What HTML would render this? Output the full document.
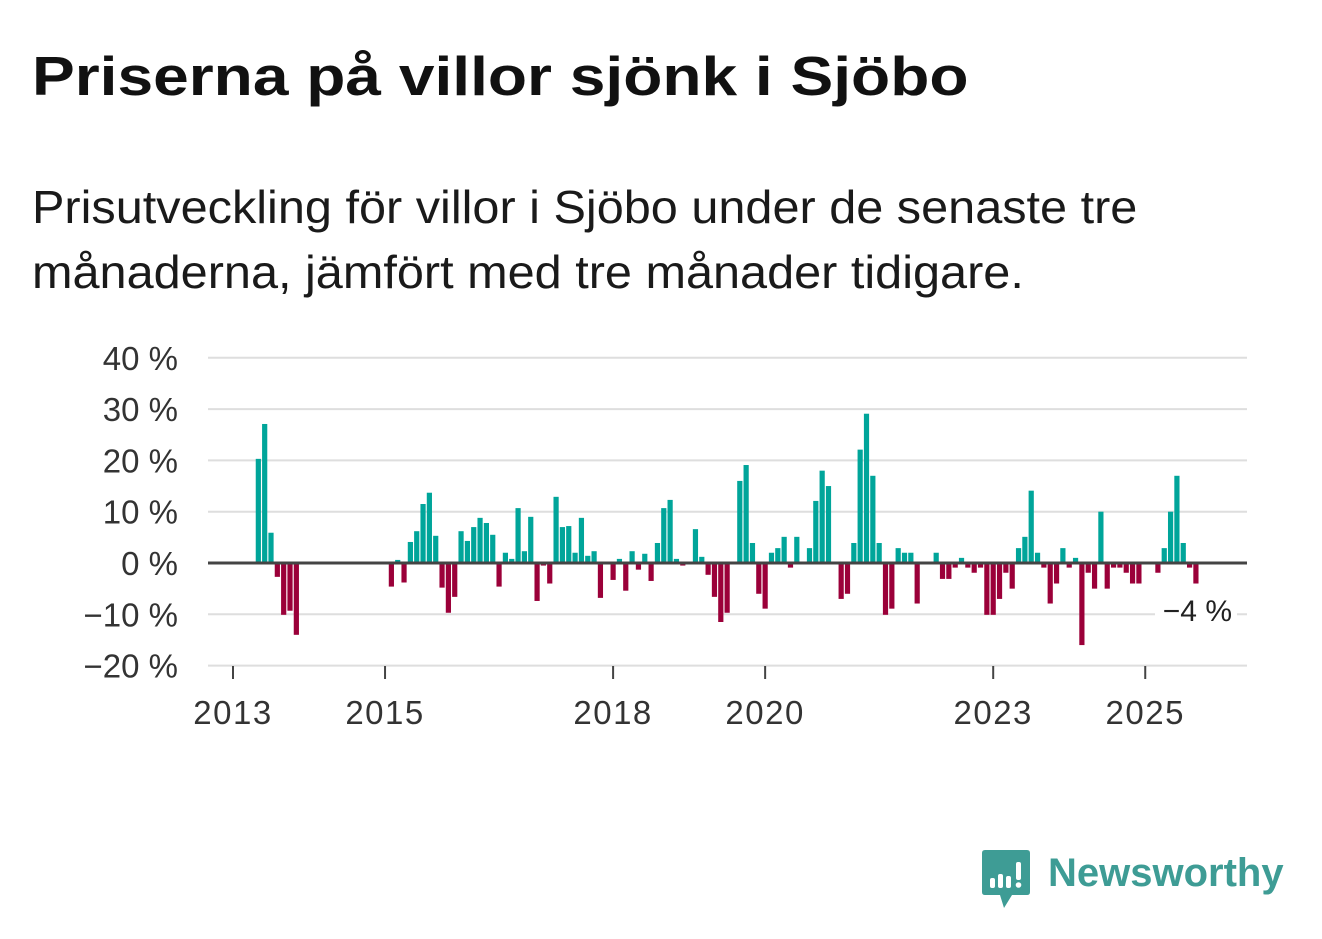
<!DOCTYPE html>
<html><head><meta charset="utf-8">
<style>
body{margin:0;background:#fff;width:1322px;height:939px;overflow:hidden;font-family:"Liberation Sans",sans-serif;}
#title{position:absolute;left:32px;top:44px;font-size:55px;font-weight:bold;color:#111;margin:0;white-space:nowrap;transform:scaleX(1.165);transform-origin:left top;}
#sub{position:absolute;left:32px;top:175px;font-size:46px;line-height:65px;color:#1a1a1a;white-space:nowrap;transform:scaleX(1.057);transform-origin:left top;}
svg{position:absolute;left:0;top:0;}
</style></head><body>
<h1 id="title">Priserna på villor sjönk i Sjöbo</h1>
<div id="sub">Prisutveckling för villor i Sjöbo under de senaste tre<br>månaderna, jämfört med tre månader tidigare.</div>
<svg id="chart" width="1322" height="939"></svg>
<div style="position:absolute;left:982px;top:850px;">
<svg width="50" height="60" style="position:absolute;left:0;top:0">
<path d="M3 0 H45 Q48 0 48 3 V42 Q48 45 45 45 H30 L22 58 L18 45 H3 Q0 45 0 42 V3 Q0 0 3 0Z" fill="#3e9c95"/>
<rect x="8" y="28" width="5" height="10" rx="2" fill="#fff"/><rect x="16" y="24" width="5" height="14" rx="2" fill="#fff"/><rect x="24" y="26" width="5" height="12" rx="2" fill="#fff"/><rect x="34" y="12" width="5" height="18" rx="2" fill="#fff"/><circle cx="36.5" cy="35" r="2.8" fill="#fff"/>
</svg>
<span style="position:absolute;left:66px;top:1px;font-size:40px;font-weight:bold;color:#3e9c95;white-space:nowrap;">Newsworthy</span>
</div>
<script>
const values=[null,null,null,null,20.3,27.1,5.9,-2.7,-10.1,-9.3,-14,
null,null,null,null,null,null,null,null,null,null,null,null,null,null,
-4.6,0.6,-3.8,4.1,6.2,11.5,13.7,5.3,-4.8,-9.7,-6.6,6.2,4.3,7.0,8.8,7.8,5.5,-4.6,2.0,0.8,10.7,2.3,9.0,-7.4,-0.5,-4.0,
12.9,7.0,7.2,2.0,8.8,1.4,2.3,-6.8,0,-3.3,0.8,-5.4,2.3,-1.3,1.8,-3.5,3.9,10.7,12.3,0.8,-0.5,0,6.6,1.2,-2.3,-6.6,-11.5,-9.7,0,
16.0,19.1,3.9,-6.0,-8.9,2.0,2.9,5.1,-0.9,5.1,0,2.9,12.1,18.0,15.0,0,-7.0,-6.0,3.9,22.1,29.1,17.0,3.9,-10.1,-8.9,2.9,2.0,2.0,-7.9,0,0,
2.0,-3.1,-3.1,-0.9,1.0,-0.9,-1.9,-0.9,-10.1,-10.1,-7.0,-1.9,-5.0,2.9,5.1,14.1,2.0,-0.9,-7.9,-4.0,2.9,-0.9,1.0,-16.0,-1.9,-5.0,10.0,-5.0,-0.9,-0.9,-1.9,-4.0,-4.0,0,0,-1.9,2.9,10.0,17.0,3.9,-0.9,-4.0];
const yTicks=[40,30,20,10,0,-10,-20];
const yTickLabels=["40 %","30 %","20 %","10 %","0 %","−10 %","−20 %"];
const xYears=[2013,2015,2018,2020,2023,2025];
const lastLabel="−4 %";

const svg=document.getElementById('chart');
const NS="http://www.w3.org/2000/svg";
const y=v=>563-v*5.13;
const x=m=>233+m*6.335;
function mk(t,a){const e=document.createElementNS(NS,t);for(const k in a)e.setAttribute(k,a[k]);svg.appendChild(e);return e;}
yTicks.forEach((t,i)=>{
  if(t!==0){const g=mk('line',{x1:208,x2:1247,y1:y(t),y2:y(t),stroke:'#dedede','stroke-width':2});
  
  }
  const l=mk('text',{x:178,y:y(t)+12,'text-anchor':'end','font-size':33,fill:'#333','font-family':'Liberation Sans, sans-serif'});
  l.textContent=yTickLabels[i];
  
  
});
values.forEach((v,m)=>{
  if(v===null||v===0)return;
  const top=v>0?y(v):y(0), h=Math.abs(y(v)-y(0));
  const b=mk('rect',{x:x(m)-2.6,y:top,width:5.2,height:h,fill:v>0?'#00a59a':'#9b0039'});
  
  
});
const z=mk('line',{x1:208,x2:1247,y1:y(0),y2:y(0),stroke:'#444','stroke-width':3});


xYears.forEach(yr=>{
  const xx=x((yr-2013)*12);
  const t=mk('line',{x1:xx,x2:xx,y1:666,y2:679,stroke:'#444','stroke-width':2});
  
  
  const l=mk('text',{x:xx,y:724,'text-anchor':'middle','font-size':33,'letter-spacing':1.5,fill:'#333','font-family':'Liberation Sans, sans-serif'});
  l.textContent=yr;
  
  
});
const bg=mk('rect',{x:1155,y:593,width:82,height:34,fill:'#fff'});


const ll=mk('text',{x:1232,y:621,'text-anchor':'end','font-size':30,fill:'#222','font-family':'Liberation Sans, sans-serif'});
ll.textContent=lastLabel;


</script>
</body></html>
